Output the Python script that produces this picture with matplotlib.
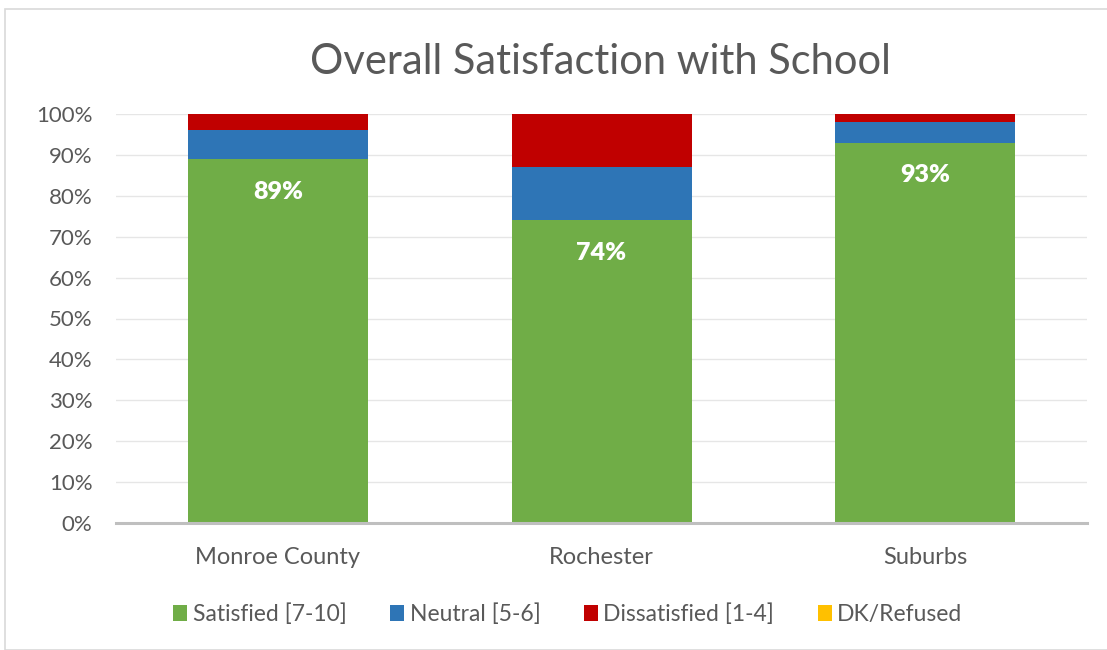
import matplotlib
matplotlib.use("Agg")
import matplotlib.pyplot as plt
from matplotlib.patches import Rectangle
import numpy as np

categories = ["Monroe County", "Rochester", "Suburbs"]
satisfied = [89, 74, 93]
neutral = [7, 13, 5]
dissatisfied = [4, 13, 2]
dk_refused = [0, 0, 0]
series_names = ["Satisfied [7-10]", "Neutral [5-6]", "Dissatisfied [1-4]", "DK/Refused"]
colors = ["#70AD47", "#2E75B6", "#C00000", "#FFC000"]
yticks = [0, 10, 20, 30, 40, 50, 60, 70, 80, 90, 100]

plt.rcParams['font.family'] = ['Lato', 'DejaVu Sans']
txt = "#595959"

fig = plt.figure(figsize=(11.07, 6.5), dpi=100)
ax = fig.add_axes([0.1048, 0.1954, 0.8772, 0.6292])

x = np.arange(len(categories))
w = 0.556
bottom = np.zeros(len(categories))
handles = []
for vals, name, c in zip([satisfied, neutral, dissatisfied, dk_refused], series_names, colors):
    b = ax.bar(x, vals, w, bottom=bottom, color=c, label=name, zorder=3)
    handles.append(b)
    bottom += np.array(vals)

for xi, v in zip(x, satisfied):
    ax.text(xi, v - 8, f"{v}%", ha="center", va="center", color="white",
            fontsize=18, fontweight="heavy", zorder=4)

ax.set_xlim(-0.5, 2.5)
ax.set_ylim(0, 100)
ax.set_yticks(yticks)
ax.set_yticklabels([f"{t}%" for t in yticks], color=txt, fontsize=16)
ax.set_xticks(x)
ax.set_xticklabels(categories, color=txt, fontsize=17)
ax.tick_params(axis="both", length=0)
ax.tick_params(axis="y", pad=17)
ax.tick_params(axis="x", pad=17)
ax.grid(axis="y", color="#e6e6e6", linewidth=1, zorder=0)
for s in ["top", "right", "left"]:
    ax.spines[s].set_visible(False)
ax.spines["bottom"].set_color("#bfbfbf")
ax.spines["bottom"].set_linewidth(2.2)
ax.spines["bottom"].set_zorder(5)

fig.text(0.542, 0.905, "Overall Satisfaction with School", ha="center", va="center",
         fontsize=30, color=txt)

leg = fig.legend(handles=handles, labels=series_names, loc="center", bbox_to_anchor=(0.513, 0.055),
                 ncol=4, frameon=False, fontsize=16.5, handlelength=0.6, handleheight=0.7,
                 handletextpad=0.25, columnspacing=1.9)
for t in leg.get_texts():
    t.set_color(txt)

fig.patches.append(Rectangle((5/1107, 0), 1 - 5/1107 + 0.01, 1 - 9/650, transform=fig.transFigure,
                             fill=False, edgecolor="#d9d9d9", linewidth=1.2))

fig.savefig("out.png", dpi=100)
